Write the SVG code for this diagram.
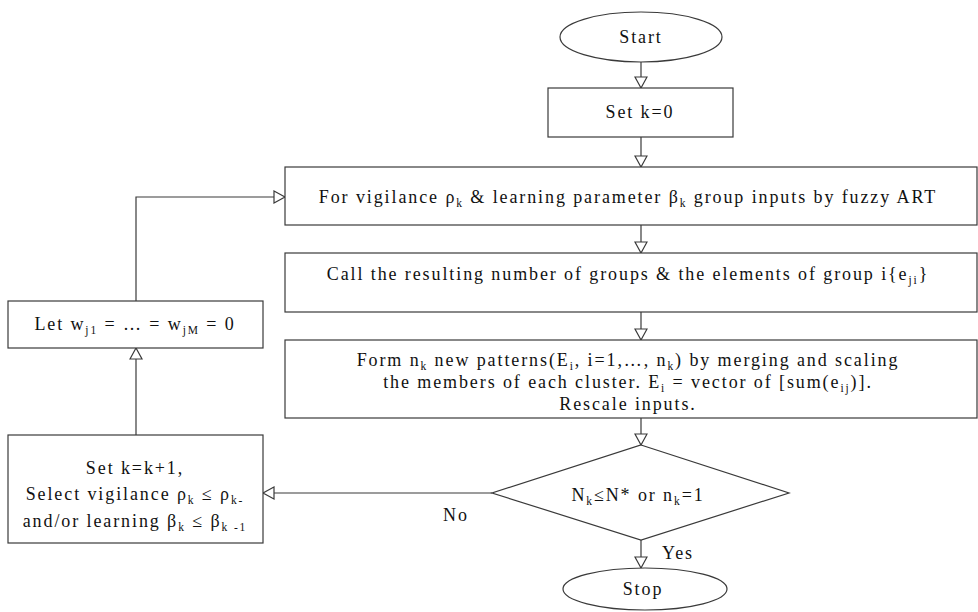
<svg xmlns="http://www.w3.org/2000/svg" width="978" height="612" viewBox="0 0 978 612">
<style>
.s{fill:#fff;stroke:#3a3a3a;stroke-width:1.2}
.t{font-family:"Liberation Serif","Times New Roman",serif;font-size:18px;fill:#111;letter-spacing:1.9px;text-anchor:middle}
.sb{font-size:11.5px}
.c{fill:none;stroke:#3a3a3a;stroke-width:1.2}
</style>
<defs>
<marker id="a" markerUnits="userSpaceOnUse" markerWidth="14" markerHeight="14" refX="12" refY="7" orient="auto">
<path d="M1,1 L12,7 L1,13 Z" fill="#fff" stroke="#3a3a3a" stroke-width="1.2"/>
</marker>
</defs>
<rect width="978" height="612" fill="#fff"/>
<g id="connectors">
<path class="c" d="M641,62 V88" marker-end="url(#a)"/>
<path class="c" d="M641,137 V167" marker-end="url(#a)"/>
<path class="c" d="M641,225 V253" marker-end="url(#a)"/>
<path class="c" d="M641,312 V340" marker-end="url(#a)"/>
<path class="c" d="M641,418 V445" marker-end="url(#a)"/>
<path class="c" d="M641,540 V568" marker-end="url(#a)"/>
<path class="c" d="M492,493 H263" marker-end="url(#a)"/>
<path class="c" d="M136,435 V348" marker-end="url(#a)"/>
<path class="c" d="M136,301 V197 H285" marker-end="url(#a)"/>
</g>
<g id="start">
<ellipse class="s" cx="641" cy="37" rx="81" ry="25"/>
<text class="t" x="641" y="43">Start</text>
</g>
<g id="setk0">
<rect class="s" x="548" y="88" width="185" height="49"/>
<text class="t" x="640" y="118">Set  k=0</text>
</g>
<g id="fuzzyart">
<rect class="s" x="285" y="167" width="692" height="58"/>
<text class="t" x="628" y="203">For vigilance ρ<tspan class="sb" dy="4">k</tspan><tspan dy="-4">  &amp; learning parameter β</tspan><tspan class="sb" dy="4">k</tspan><tspan dy="-4"> group inputs by fuzzy ART</tspan></text>
</g>
<g id="call">
<rect class="s" x="285" y="253" width="692" height="59"/>
<text class="t" x="628" y="280">Call the resulting number of groups &amp; the elements of group i{e<tspan class="sb" dy="4">ji</tspan><tspan dy="-4">}</tspan></text>
</g>
<g id="form">
<rect class="s" x="285" y="340" width="692" height="78"/>
<text class="t" x="628" y="366">Form n<tspan class="sb" dy="4">k</tspan><tspan dy="-4"> new patterns(E</tspan><tspan class="sb" dy="4">i</tspan><tspan dy="-4">, i=1,…, n</tspan><tspan class="sb" dy="4">k</tspan><tspan dy="-4">) by merging and scaling</tspan></text>
<text class="t" x="628" y="388">the members of each cluster. E<tspan class="sb" dy="4">i</tspan><tspan dy="-4"> = vector of [sum(e</tspan><tspan class="sb" dy="4">ij</tspan><tspan dy="-4">)].</tspan></text>
<text class="t" x="628" y="410">Rescale inputs.</text>
</g>
<g id="decision">
<polygon class="s" points="641,445 789,493 641,540 492,493"/>
<text class="t" x="638" y="501">N<tspan class="sb" dy="4">k</tspan><tspan dy="-4">≤N* or n</tspan><tspan class="sb" dy="4">k</tspan><tspan dy="-4">=1</tspan></text>
</g>
<g id="stop">
<ellipse class="s" cx="645" cy="589" rx="82" ry="21"/>
<text class="t" x="643" y="595">Stop</text>
</g>
<g id="setk1">
<rect class="s" x="8" y="435" width="255" height="108"/>
<text class="t" x="135" y="474">Set  k=k+1,</text>
<text class="t" x="135" y="500">Select vigilance ρ<tspan class="sb" dy="4">k</tspan><tspan dy="-4"> ≤ ρ</tspan><tspan class="sb" dy="4">k-</tspan></text>
<text class="t" x="135" y="527">and/or learning  β<tspan class="sb" dy="4">k</tspan><tspan dy="-4"> ≤ β</tspan><tspan class="sb" dy="4">k -1</tspan></text>
</g>
<g id="letw">
<rect class="s" x="8" y="301" width="255" height="47"/>
<text class="t" x="135" y="330">Let w<tspan class="sb" dy="4">j1</tspan><tspan dy="-4"> = … = w</tspan><tspan class="sb" dy="4">jM</tspan><tspan dy="-4"> = 0</tspan></text>
</g>
<g id="labels">
<text class="t" x="456" y="521">No</text>
<text class="t" x="678" y="559">Yes</text>
</g>
</svg>
